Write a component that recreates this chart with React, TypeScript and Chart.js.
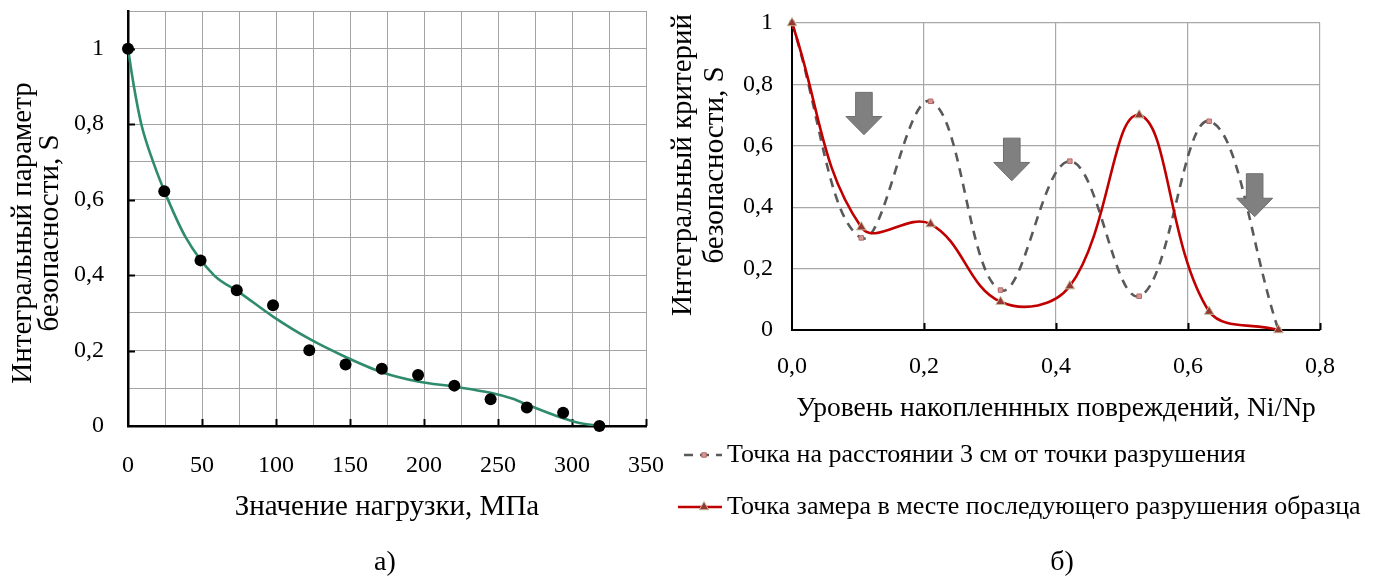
import React, { useEffect, useRef } from "react";
import { Chart, registerables } from "chart.js";
import { drawPoint } from "chart.js/helpers";

Chart.register(...registerables);

// ---- Chart а): safety parameter vs load ----
const loadMPa = [0, 24.5, 49, 73.5, 98, 122.5, 147, 171.5, 196, 220.5, 245, 269.5, 294, 318.5];
const safetyMeasured = [1.0, 0.622, 0.439, 0.36, 0.32, 0.201, 0.163, 0.152, 0.135, 0.107, 0.071, 0.049, 0.035, 0.0];
const trendLoad = [0, 4, 9, 17, 27, 39, 58, 75, 98, 122, 147, 172, 196, 221, 245, 260, 270, 290, 305, 318.5];
const trendSafety = [1, 0.9, 0.8, 0.7, 0.6, 0.5, 0.4, 0.355, 0.29, 0.232, 0.183, 0.142, 0.118, 0.104, 0.088, 0.072, 0.056, 0.026, 0.008, 0];

const loadAxisTitle = "Значение нагрузки, МПа";
const loadSafetyTitle = ["Интегральный параметр", "безопасности, S"];
const loadCaption = "а)";

// ---- Chart б): safety criterion vs accumulated damage ----
const damageLevel = [0, 0.105, 0.21, 0.316, 0.421, 0.526, 0.632, 0.737];
const safetyNear = [1.0, 0.3, 0.745, 0.13, 0.55, 0.11, 0.68, 0.0];
const safetyFracture = [1.0, 0.335, 0.345, 0.092, 0.143, 0.7, 0.06, 0.0];
const arrowDamage = [0.109, 0.333, 0.701];
const arrowTop = [0.774, 0.625, 0.509];
const arrowTip = [0.636, 0.486, 0.369];

const damageAxisTitle = "Уровень накопленнных повреждений, Ni/Np";
const damageSafetyTitle = ["Интегральный критерий", "безопасности, S"];
const seriesNear = "Точка на расстоянии 3 см от точки разрушения";
const seriesFracture = "Точка замера в месте последующего разрушения образца";
const damageCaption = "б)";

const SERIF = '"Liberation Serif", "Times New Roman", serif';

const comma = (v: number, digits?: number) =>
  (digits === undefined ? String(Math.round(v * 10) / 10) : v.toFixed(digits)).replace(".", ",");

const isMultiple = (v: number, step: number) => Math.abs(v / step - Math.round(v / step)) < 1e-6;

// Keep the chart area exactly where the layout padding puts it
const fixWidth = (w: number) => (s: any) => {
  s.width = w;
  s.paddingTop = 0;
  s.paddingBottom = 0;
};
const fixHeight = (h: number) => (s: any) => {
  s.height = h;
  s.paddingLeft = 0;
  s.paddingRight = 0;
};

// Extra drawing: inward tick marks, rotated side title, caption, legend, arrows
const extrasPlugin = {
  id: "extras",
  beforeDatasetsDraw(chart: any, _a: any, opts: any) {
    const t = opts.innerTicks;
    if (!t) return;
    const { ctx, chartArea } = chart;
    const xs = chart.scales.x;
    const ys = chart.scales.y;
    ctx.save();
    ctx.strokeStyle = "#000";
    ctx.lineWidth = t.width;
    if (t.xStep) {
      xs.ticks.forEach((tk: any) => {
        if (tk.value === xs.min || !isMultiple(tk.value, t.xStep)) return;
        const px = Math.round(xs.getPixelForValue(tk.value)) + 0.5;
        ctx.beginPath();
        ctx.moveTo(px, chartArea.bottom);
        ctx.lineTo(px, chartArea.bottom - t.length);
        ctx.stroke();
      });
    }
    if (t.yStep) {
      ys.ticks.forEach((tk: any) => {
        if (tk.value === ys.min || !isMultiple(tk.value, t.yStep)) return;
        const py = Math.round(ys.getPixelForValue(tk.value)) + 0.5;
        ctx.beginPath();
        ctx.moveTo(chartArea.left, py);
        ctx.lineTo(chartArea.left + t.length, py);
        ctx.stroke();
      });
    }
    ctx.restore();
  },
  afterDraw(chart: any, _a: any, opts: any) {
    const { ctx } = chart;
    ctx.save();
    ctx.fillStyle = "#000";
    ctx.textBaseline = "middle";

    const side = opts.sideTitle;
    if (side) {
      ctx.font = `${side.size}px ${SERIF}`;
      ctx.textAlign = "center";
      side.lines.forEach((line: string, i: number) => {
        ctx.save();
        ctx.translate(side.xs[i], side.centerY);
        ctx.rotate(-Math.PI / 2);
        ctx.fillText(line, 0, 0);
        ctx.restore();
      });
    }

    const cap = opts.caption;
    if (cap) {
      ctx.font = `${cap.size}px ${SERIF}`;
      ctx.textAlign = "center";
      ctx.fillText(cap.text, cap.x, cap.y);
    }

    const arrows = opts.arrows;
    if (arrows) {
      const xs = chart.scales.x;
      const ys = chart.scales.y;
      arrows.x.forEach((xv: number, i: number) => {
        const cx = xs.getPixelForValue(xv);
        const top = ys.getPixelForValue(arrows.top[i]);
        const tip = ys.getPixelForValue(arrows.tip[i]);
        const headH = (tip - top) * 0.43;
        const sh = 8.3;
        const hh = 18;
        ctx.beginPath();
        ctx.moveTo(cx - sh, top);
        ctx.lineTo(cx + sh, top);
        ctx.lineTo(cx + sh, tip - headH);
        ctx.lineTo(cx + hh, tip - headH);
        ctx.lineTo(cx, tip);
        ctx.lineTo(cx - hh, tip - headH);
        ctx.lineTo(cx - sh, tip - headH);
        ctx.closePath();
        ctx.fillStyle = "#808080";
        ctx.fill();
        ctx.strokeStyle = "#6e6e6e";
        ctx.lineWidth = 1;
        ctx.stroke();
      });
    }

    const leg = opts.legend;
    if (leg) {
      leg.order.forEach((dsIndex: number, row: number) => {
        const ds = chart.data.datasets[dsIndex];
        const y = leg.rows[row];
        const x0 = leg.symbolFrom[row];
        const x1 = leg.symbolTo;
        ctx.save();
        ctx.strokeStyle = ds.borderColor;
        ctx.lineWidth = ds.borderWidth;
        ctx.setLineDash(ds.borderDash || []);
        ctx.beginPath();
        ctx.moveTo(x0, y);
        ctx.lineTo(x1, y);
        ctx.stroke();
        ctx.setLineDash([]);
        ctx.fillStyle = ds.pointBackgroundColor;
        ctx.strokeStyle = ds.pointBorderColor;
        ctx.lineWidth = ds.pointBorderWidth;
        drawPoint(ctx, { pointStyle: ds.pointStyle, radius: ds.pointRadius, rotation: 0, borderWidth: ds.pointBorderWidth }, leg.markerX, y);
        ctx.restore();
        ctx.fillStyle = "#000";
        ctx.textAlign = "left";
        ctx.font = `${leg.size}px ${SERIF}`;
        ctx.fillText(ds.label, leg.textX, y);
      });
    }
    ctx.restore();
  },
};

const tickFont = { family: SERIF, size: 24 };

function LoadChart() {
  const ref = useRef<HTMLCanvasElement | null>(null);
  useEffect(() => {
    const chart = new Chart(ref.current as HTMLCanvasElement, {
      type: "scatter",
      data: {
        datasets: [
          {
            label: "measured",
            data: loadMPa.map((x, i) => ({ x, y: safetyMeasured[i] })),
            pointStyle: "circle",
            pointRadius: 6,
            pointBackgroundColor: "#000",
            pointBorderColor: "#000",
            pointBorderWidth: 0,
            showLine: false,
            clip: false,
            order: 0,
          },
          {
            label: "trend",
            data: trendLoad.map((x, i) => ({ x, y: trendSafety[i] })),
            showLine: true,
            borderColor: "#2e8b6b",
            borderWidth: 2.6,
            pointRadius: 0,
            cubicInterpolationMode: "monotone",
            order: 1,
          },
        ],
      },
      options: {
        animation: false,
        responsive: false,
        events: [],
        layout: { padding: { top: 11, right: 19, bottom: 50, left: 0 } },
        plugins: {
          legend: { display: false },
          tooltip: { enabled: false },
          extras: {
            innerTicks: { xStep: 50, yStep: 0.2, length: 7, width: 2 },
            sideTitle: { lines: loadSafetyTitle, xs: [23, 50], centerY: 233, size: 29 },
            caption: { text: loadCaption, x: 385, y: 563, size: 28 },
          },
        } as any,
        scales: {
          x: {
            type: "linear",
            min: 0,
            max: 350,
            ticks: {
              stepSize: 25,
              autoSkip: false,
              maxRotation: 0,
              padding: 25,
              color: "#000",
              font: tickFont,
              callback: (v: any) => (isMultiple(v, 50) ? String(v) : ""),
            },
            grid: { color: "#a3a3a3", lineWidth: 1, drawTicks: false },
            border: { color: "#000", width: 2.5 },
            title: {
              display: true,
              text: loadAxisTitle,
              color: "#000",
              font: { family: SERIF, size: 29 },
              padding: { top: 0, bottom: 5 },
            },
            afterFit: fixHeight(104),
          },
          y: {
            type: "linear",
            min: 0,
            max: 1.1,
            ticks: {
              stepSize: 0.1,
              autoSkip: false,
              padding: 24,
              color: "#000",
              font: tickFont,
              callback: (v: any) => (isMultiple(v, 0.2) ? comma(v) : ""),
            },
            grid: { color: "#a3a3a3", lineWidth: 1, drawTicks: false },
            border: { color: "#000", width: 2.5 },
            afterFit: fixWidth(128),
          },
        },
      } as any,
      plugins: [extrasPlugin],
    });
    return () => chart.destroy();
  }, []);
  return <canvas ref={ref} width={665} height={580} style={{ position: "absolute", left: 0, top: 0 }} />;
}

function DamageChart() {
  const ref = useRef<HTMLCanvasElement | null>(null);
  useEffect(() => {
    const chart = new Chart(ref.current as HTMLCanvasElement, {
      type: "scatter",
      data: {
        datasets: [
          {
            label: seriesNear,
            data: damageLevel.map((x, i) => ({ x, y: safetyNear[i] })),
            showLine: true,
            borderColor: "#595959",
            borderWidth: 2.6,
            borderDash: [9, 7],
            tension: 0.4,
            pointStyle: "rect",
            pointRadius: 3.2,
            pointBackgroundColor: "#d99694",
            pointBorderColor: "#b36b6b",
            pointBorderWidth: 1,
            clip: false,
            order: 1,
          },
          {
            label: seriesFracture,
            data: damageLevel.map((x, i) => ({ x, y: safetyFracture[i] })),
            showLine: true,
            borderColor: "#c00000",
            borderWidth: 2.6,
            tension: 0.4,
            pointStyle: "triangle",
            pointRadius: 5.5,
            pointBackgroundColor: "#953735",
            pointBorderColor: "#c4bd97",
            pointBorderWidth: 1,
            clip: false,
            order: 0,
          },
        ],
      },
      options: {
        animation: false,
        responsive: false,
        events: [],
        layout: { padding: { top: 23, right: 58, bottom: 150, left: 0 } },
        plugins: {
          legend: { display: false },
          tooltip: { enabled: false },
          extras: {
            innerTicks: { xStep: 0.2, yStep: 0, length: 7, width: 2 },
            sideTitle: { lines: damageSafetyTitle, xs: [18.8, 50.5], centerY: 165, size: 29 },
            caption: { text: damageCaption, x: 397, y: 563, size: 28 },
            arrows: { x: arrowDamage, top: arrowTop, tip: arrowTip },
            legend: {
              order: [0, 1],
              rows: [455, 507],
              symbolFrom: [19, 13],
              symbolTo: 57,
              markerX: 39,
              textX: 62,
              size: 26,
            },
          },
        } as any,
        scales: {
          x: {
            type: "linear",
            min: 0,
            max: 0.8,
            ticks: {
              stepSize: 0.2,
              autoSkip: false,
              maxRotation: 0,
              padding: 22,
              color: "#000",
              font: tickFont,
              callback: (v: any) => comma(v, 1),
            },
            grid: { color: "#a8a8a8", lineWidth: 1.2, drawTicks: false },
            border: { color: "#000", width: 2 },
            title: {
              display: true,
              text: damageAxisTitle,
              color: "#000",
              font: { family: SERIF, size: 27.5 },
              padding: { top: 0, bottom: 5 },
            },
            afterFit: fixHeight(100),
          },
          y: {
            type: "linear",
            min: 0,
            max: 1,
            ticks: {
              stepSize: 0.2,
              autoSkip: false,
              padding: 19,
              color: "#000",
              font: tickFont,
              callback: (v: any) => comma(v),
            },
            grid: { color: "#a8a8a8", lineWidth: 1.2, drawTicks: false },
            border: { color: "#000", width: 2 },
            afterFit: fixWidth(127),
          },
        },
      } as any,
      plugins: [extrasPlugin],
    });
    return () => chart.destroy();
  }, []);
  return <canvas ref={ref} width={713} height={580} style={{ position: "absolute", left: 665, top: 0 }} />;
}

export default function App() {
  return (
    <div>
      <LoadChart />
      <DamageChart />
    </div>
  );
}
